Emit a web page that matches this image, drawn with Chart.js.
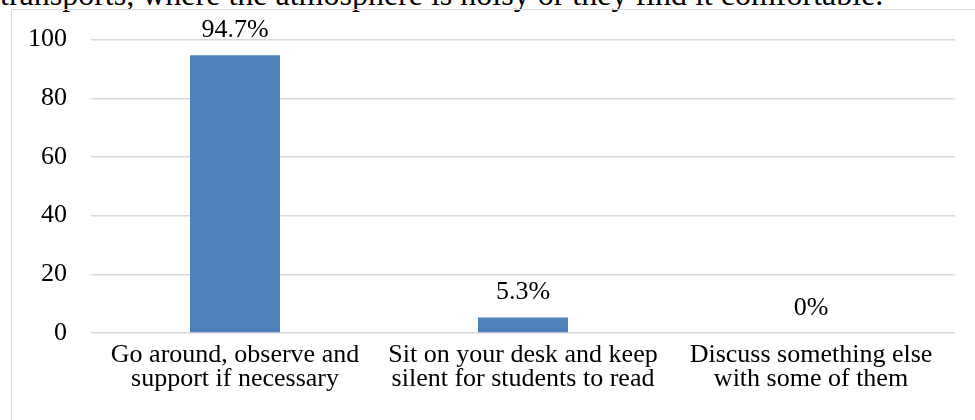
<!DOCTYPE html>
<html>
<head>
<meta charset="utf-8">
<script src="https://cdn.jsdelivr.net/npm/chart.js@4/dist/chart.umd.min.js"></script>
<style>
  html, body { margin: 0; padding: 0; width: 975px; height: 420px; overflow: hidden; background: #fff; }
  #title { position: absolute; left: 0; top: -24px; font-family: "Liberation Serif", "Times New Roman", serif; font-size: 32px; white-space: nowrap; color: #000; line-height: 36px; }
  #box { position: absolute; left: 11px; top: 9px; width: 1000px; height: 430px; border: 1.5px solid #d9d9d9; box-sizing: border-box; }
  #wrap { position: absolute; left: 0; top: 0; width: 975px; height: 420px; }
</style>
</head>
<body>
<div id="title">transports, where the atmosphere is noisy or they find it comfortable.</div>
<div id="box"></div>
<div id="wrap"><canvas id="c" width="975" height="420"></canvas></div>
<script>
const categories = [
  ["Go around, observe and", "support if necessary"],
  ["Sit on your desk and keep", "silent for students to read"],
  ["Discuss something else", "with some of them"]
];
const values = [94.7, 5.3, 0];
const valueLabels = ["94.7%", "5.3%", "0%"];
const yTicks = [0, 20, 40, 60, 80, 100];

const FONT = '"Liberation Serif", "Times New Roman", serif';

const labelPlugin = {
  id: 'valueLabels',
  afterDatasetsDraw(chart) {
    const ctx = chart.ctx;
    const meta = chart.getDatasetMeta(0);
    ctx.save();
    ctx.font = '26px ' + FONT;
    ctx.fillStyle = '#000';
    ctx.textAlign = 'center';
    ctx.textBaseline = 'middle';
    meta.data.forEach((bar, i) => {
      ctx.fillText(valueLabels[i], bar.x, bar.y - 25);
    });
    ctx.restore();
  }
};

new Chart(document.getElementById('c'), {
  type: 'bar',
  data: {
    labels: categories,
    datasets: [{
      data: values,
      backgroundColor: '#4f81bd',
      borderWidth: 0,
      barPercentage: 0.3125,
      categoryPercentage: 1.0
    }]
  },
  options: {
    responsive: false,
    animation: false,
    devicePixelRatio: 1,
    layout: { padding: { top: 38, right: 20, left: 0, bottom: 0 } },
    plugins: { legend: { display: false }, tooltip: { enabled: false } },
    scales: {
      x: {
        grid: { display: false, drawTicks: false },
        border: { display: false },
        ticks: {
          color: '#000',
          font: { family: FONT, size: 26, lineHeight: 0.92 },
          padding: 10,
          maxRotation: 0,
          autoSkip: false
        },
        afterFit(s) { s.height = 87; }
      },
      y: {
        min: 0, max: 100,
        afterBuildTicks(s) { s.ticks = yTicks.map(v => ({ value: v })); },
        grid: { color: '#d9d9d9', lineWidth: 1.5, drawTicks: false },
        border: { display: false },
        ticks: {
          color: '#000',
          font: { family: FONT, size: 26 },
          padding: 24
        },
        afterFit(s) { s.width = 91; }
      }
    }
  },
  plugins: [labelPlugin]
});
</script>
</body>
</html>
